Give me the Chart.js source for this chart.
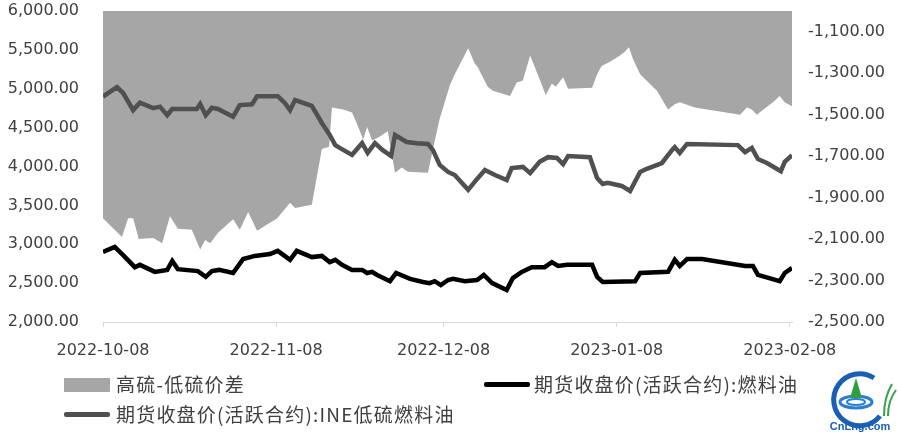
<!DOCTYPE html>
<html>
<head>
<meta charset="utf-8">
<script src="https://cdn.jsdelivr.net/npm/chart.js@4.4.0/dist/chart.umd.min.js"></script>
<style>
  html, body { margin:0; padding:0; background:#fff; }
  #wrap { position:relative; width:900px; height:435px; }
  #c { position:absolute; left:0; top:0; }
  .lg { position:absolute; font-family:"Noto Sans CJK SC", sans-serif; font-size:19px; letter-spacing:1.2px; color:#404040; line-height:20px; white-space:nowrap; }
  .sw { position:absolute; }
</style>
</head>
<body>
<div id="wrap">
  <canvas id="c" width="900" height="435"></canvas>

  <div class="sw" style="left:64px;top:378px;width:46px;height:14px;background:#a6a6a6"></div>
  <div class="lg" style="left:116px;top:374px">高硫-低硫价差</div>

  <div class="sw" style="left:484px;top:382px;width:46px;height:5px;background:#000;border-radius:2px"></div>
  <div class="lg" style="left:534px;top:374px">期货收盘价(活跃合约):燃料油</div>

  <div class="sw" style="left:64px;top:412px;width:46px;height:5px;background:#505050;border-radius:2px"></div>
  <div class="lg" style="left:116px;top:404px">期货收盘价(活跃合约):INE低硫燃料油</div>

  <svg style="position:absolute;left:826px;top:364px" width="72" height="70" viewBox="0 0 72 70">
    <path d="M48 14 A26 26 0 1 0 54 52" fill="none" stroke="#1a5fb4" stroke-width="5"/>
    <ellipse cx="30" cy="38" rx="16" ry="6" fill="none" stroke="#2a7fd4" stroke-width="3"/>
    <ellipse cx="30" cy="38" rx="9" ry="3" fill="none" stroke="#2a7fd4" stroke-width="2"/>
    <path d="M30 14 L36 34 L24 34 Z" fill="#2e9e3e"/>
    <path d="M58 52 C58 40 60 30 66 20 M62 52 C62 42 64 34 70 26" fill="none" stroke="#3aa04a" stroke-width="2"/>
    <text x="34" y="66" text-anchor="middle" font-family="Liberation Sans, sans-serif" font-size="11" fill="#1a5fb4" font-weight="bold">CnLng.com</text>
  </svg>
</div>

<script>
// =========================================
// DATOS
// =========================================
const startDate = Date.UTC(2022, 9, 8);
const tickDays = [0, 31, 61, 92, 123];
const leftTicks = [2000, 2500, 3000, 3500, 4000, 4500, 5000, 5500, 6000];
const rightTicks = [-2500, -2300, -2100, -1900, -1700, -1500, -1300, -1100];

// INE low sulfur fuel oil (left axis)
const ineDays   = [0, 2.5, 3.6, 5.4, 6.6, 9.0, 10.2, 11.5, 12.4, 16.8, 17.4, 18.4, 19.5, 20.6, 23.3, 24.5, 26.7, 27.6, 31.3, 32.6, 33.5, 34.4, 37.4, 39.2, 40.6, 41.6, 42.4, 44.6, 46.4, 47.4, 48.7, 50.1, 51.6, 52.3, 54.4, 56.2, 58.2, 59.1, 60.3, 61.8, 63.0, 65.4, 67.0, 68.4, 70.2, 72.3, 73.2, 75.2, 76.5, 78.2, 79.7, 81.3, 82.4, 83.3, 87.2, 88.5, 89.5, 90.4, 92.9, 94.4, 96.2, 97.4, 100.1, 101.9, 102.4, 103.3, 104.6, 113.7, 115.0, 116.2, 117.3, 118.9, 121.4, 122.1, 123.4];
const ineValues = [4900, 5020, 4945, 4725, 4820, 4750, 4770, 4660, 4740, 4740, 4805, 4660, 4755, 4740, 4640, 4790, 4800, 4905, 4905, 4815, 4725, 4855, 4780, 4560, 4405, 4275, 4240, 4150, 4300, 4175, 4300, 4210, 4135, 4405, 4315, 4300, 4290, 4210, 4020, 3930, 3890, 3700, 3840, 3955, 3890, 3825, 3980, 3995, 3915, 4060, 4120, 4110, 4030, 4135, 4120, 3850, 3775, 3790, 3750, 3685, 3930, 3970, 4045, 4210, 4250, 4175, 4290, 4275, 4185, 4240, 4095, 4045, 3940, 4060, 4145];

// fuel oil (left axis)
const fuelDays   = [0, 2.1, 3.6, 5.7, 6.6, 9.3, 11.5, 12.4, 13.4, 17.0, 18.4, 19.5, 20.8, 23.3, 25.1, 27.2, 29.9, 31.3, 33.5, 34.7, 37.4, 39.2, 40.6, 41.6, 42.8, 44.6, 46.4, 47.3, 48.2, 49.1, 51.4, 52.5, 55.0, 57.3, 58.5, 59.4, 60.5, 61.8, 62.7, 64.8, 67.0, 68.2, 69.7, 72.3, 73.4, 75.0, 76.8, 79.1, 80.4, 81.5, 83.1, 87.6, 88.5, 89.5, 95.3, 96.2, 101.2, 102.4, 103.3, 104.6, 107.3, 115.0, 116.4, 117.3, 121.2, 122.1, 123.4];
const fuelValues = [2900, 2965, 2860, 2705, 2735, 2645, 2670, 2785, 2680, 2655, 2580, 2655, 2670, 2630, 2810, 2850, 2875, 2915, 2800, 2915, 2835, 2850, 2770, 2800, 2735, 2670, 2670, 2630, 2645, 2605, 2525, 2630, 2555, 2515, 2500, 2525, 2475, 2540, 2555, 2525, 2540, 2605, 2500, 2410, 2565, 2645, 2705, 2705, 2770, 2720, 2735, 2735, 2580, 2515, 2525, 2630, 2645, 2800, 2720, 2810, 2810, 2720, 2720, 2605, 2525, 2630, 2695];

// high - low sulfur spread (right axis)
const spreadDays   = [0, 3.4, 4.5, 5.4, 6.4, 9.0, 10.6, 12.0, 13.4, 15.9, 17.4, 18.3, 19.2, 20.6, 23.3, 24.5, 26.0, 27.6, 31.2, 33.5, 34.4, 37.4, 39.2, 40.5, 41.0, 43.0, 44.6, 45.5, 46.6, 47.3, 48.2, 49.6, 51.0, 52.3, 53.5, 54.6, 58.2, 59.1, 60.3, 62.1, 63.0, 65.4, 66.6, 67.1, 68.9, 69.8, 72.9, 74.1, 75.2, 76.5, 77.7, 79.3, 80.4, 81.1, 82.4, 83.3, 87.6, 88.5, 89.3, 90.8, 92.6, 93.5, 94.2, 94.9, 96.2, 99.2, 101.2, 102.4, 103.3, 106.0, 114.1, 115.3, 116.2, 117.1, 118.5, 120.0, 121.2, 122.1, 123.4];
const spreadValues = [-2000, -2090, -2000, -2000, -2100, -2095, -2120, -1990, -2050, -2055, -2150, -2105, -2120, -2070, -2005, -2055, -1970, -2060, -2000, -1925, -1950, -1935, -1665, -1655, -1465, -1475, -1490, -1545, -1620, -1560, -1625, -1605, -1580, -1780, -1755, -1775, -1780, -1665, -1520, -1360, -1305, -1180, -1255, -1270, -1365, -1385, -1410, -1345, -1335, -1215, -1295, -1405, -1350, -1365, -1320, -1375, -1370, -1305, -1265, -1245, -1215, -1195, -1175, -1230, -1305, -1385, -1475, -1450, -1440, -1465, -1500, -1465, -1475, -1500, -1470, -1440, -1410, -1440, -1460];

function toPoints(days, values){
  return days.map((d, i) => ({ x: d, y: values[i] }));
}

function dayToLabel(d){
  return new Date(startDate + d * 86400000).toISOString().slice(0, 10);
}

function fmt(v){
  return v.toLocaleString('en-US', { minimumFractionDigits: 2, maximumFractionDigits: 2 });
}

// no extra room for first/last labels, the layout is fixed
function noPad(axis){
  axis.paddingTop = 0;
  axis.paddingBottom = 0;
  axis.paddingLeft = 0;
  axis.paddingRight = 0;
}

const tickFont = { family: 'DejaVu Sans', size: 16 };
const tickColor = '#404040';

// =========================================
// CHART
// =========================================
new Chart(document.getElementById('c'), {

  type: 'line',

  data: {
    datasets: [
      {
        label: '期货收盘价(活跃合约):燃料油',
        data: toPoints(fuelDays, fuelValues),
        borderColor: '#000000',
        borderWidth: 4.5,
        pointRadius: 0,
        tension: 0,
        yAxisID: 'y',
        order: 1
      },
      {
        label: '期货收盘价(活跃合约):INE低硫燃料油',
        data: toPoints(ineDays, ineValues),
        borderColor: '#505050',
        borderWidth: 4.5,
        pointRadius: 0,
        tension: 0,
        yAxisID: 'y',
        order: 2
      },
      {
        label: '高硫-低硫价差',
        data: toPoints(spreadDays, spreadValues),
        borderColor: 'rgba(0,0,0,0)',
        borderWidth: 0,
        backgroundColor: '#a6a6a6',
        fill: 'end',
        pointRadius: 0,
        tension: 0,
        yAxisID: 'y1',
        order: 3
      }
    ]
  },

  options: {
    responsive: false,
    animation: false,
    layout: { padding: { top: 11, left: 0, right: 0, bottom: 0 } },
    plugins: {
      legend: { display: false },
      tooltip: { enabled: false }
    },
    scales: {
      x: {
        type: 'linear',
        min: 0,
        max: 123.4,
        afterBuildTicks: axis => { axis.ticks = tickDays.map(v => ({ value: v })); },
        afterFit: axis => { axis.height = 113; noPad(axis); },
        grid: { display: true, drawOnChartArea: false, tickLength: 5, color: '#d9d9d9' },
        border: { display: true, color: '#d9d9d9', width: 1 },
        ticks: {
          autoSkip: false,
          maxRotation: 0,
          padding: 14,
          font: tickFont,
          color: tickColor,
          callback: v => dayToLabel(v)
        }
      },
      y: {
        position: 'left',
        min: 2000,
        max: 6000,
        afterBuildTicks: axis => { axis.ticks = leftTicks.map(v => ({ value: v })); },
        afterFit: axis => { axis.width = 103; noPad(axis); },
        grid: { display: false, drawTicks: false },
        border: { display: false },
        ticks: {
          padding: 24,
          font: tickFont,
          color: tickColor,
          callback: v => fmt(v)
        }
      },
      y1: {
        position: 'right',
        min: -2500,
        max: -1000,
        afterBuildTicks: axis => { axis.ticks = rightTicks.map(v => ({ value: v })); },
        afterFit: axis => { axis.width = 108; noPad(axis); },
        grid: { display: false, drawTicks: false },
        border: { display: false },
        ticks: {
          padding: 16,
          font: tickFont,
          color: tickColor,
          callback: v => fmt(v)
        }
      }
    }
  }

});
</script>
</body>
</html>
